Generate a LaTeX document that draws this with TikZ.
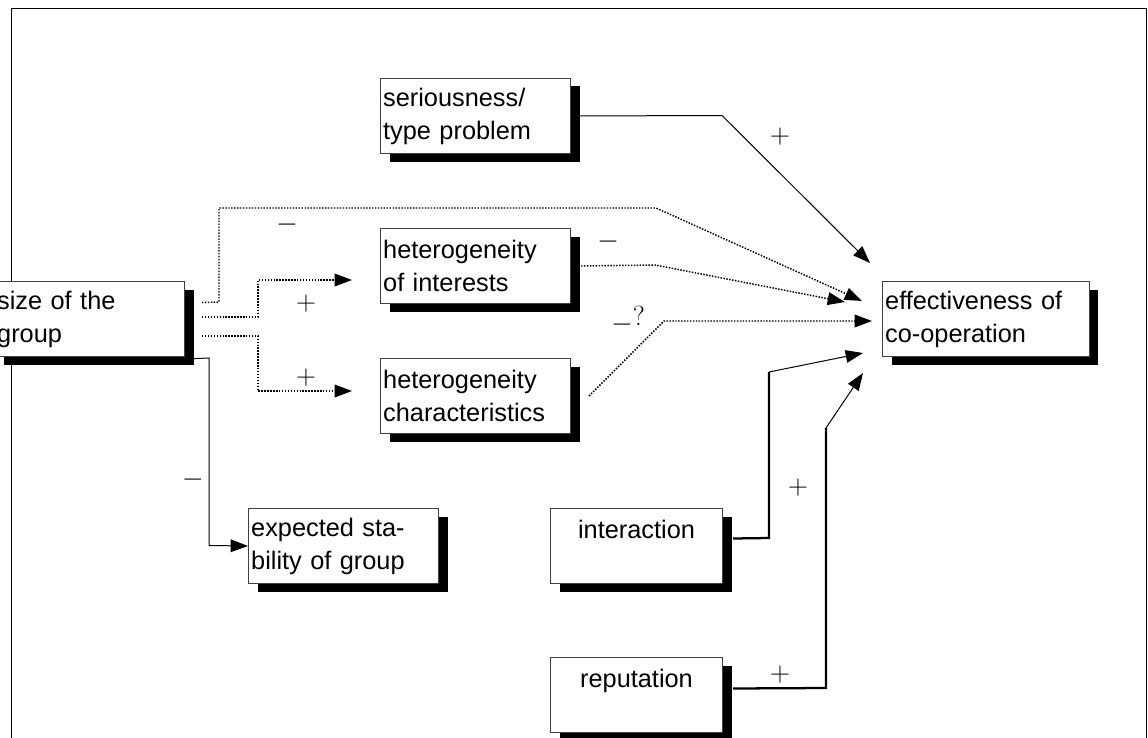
\documentclass[tikz,border=0pt]{standalone}
\usepackage{fontspec}
\setmainfont{Liberation Sans}
\usetikzlibrary{arrows.meta,shadows}

\tikzset{every picture/.style={line width=0.75pt}}
\tikzset{
  blk/.style={draw=black!75, fill=white, inner sep=2pt, text width=#1,
    minimum height=56.25pt, align=left, anchor=north west,
    font=\fontsize{19}{24.75}\selectfont,
    drop shadow={shadow xshift=6.75pt, shadow yshift=-6pt, opacity=1, fill=black}},
  blk/.default=138.5pt,
  dotline/.style={dash pattern=on 1.1pt off 1.1pt, line width=1.1pt},
  tip/.style={-{Triangle[length=13pt,width=9.5pt]}},
  sgn/.style={font=\fontsize{20}{20}\selectfont, inner sep=0pt}
}

\begin{document}
\begin{tikzpicture}[x=0.75pt,y=0.75pt,yscale=-1,xscale=1]
\useasboundingbox (0,0) rectangle (1148,738);

%Frame
\draw (11,745) -- (11,9) -- (1146,9) -- (1146,745);

% Boxes
\node (size)  [blk] at (-6,281)  {size of the\\group};
\node (ser)   [blk] at (380,78)  {seriousness/\\type problem};
\node (hint)  [blk] at (380,228) {heterogeneity\\of interests};
\node (hchar) [blk] at (380,358) {heterogeneity\\characteristics};
\node (stab)  [blk] at (248,508) {expected sta-\\bility of group};
\node (inter) [blk=125pt, align=center] at (550,508) {interaction\\~};
\node (rep)   [blk=125pt, align=center] at (550,657) {reputation\\~};
\node (eff)   [blk=151pt] at (882,281) {effectiveness of\\co-operation};

% Arrow ends
\coordinate (hiIn) at (352,280);
\coordinate (hcIn) at (352,391);
\coordinate (inS) at (870,263);
\coordinate (inA) at (862,301);
\coordinate (inB) at (845,302);
\coordinate (inC) at (872,321);
\coordinate (inD) at (863,353);
\coordinate (inE) at (863,373);
\coordinate (bendD) at (769,372);
\coordinate (bendE) at (826,428);

% Connectors
\draw [tip] (ser.east) -- (722,115.5) -- (inS);
\draw [dotline, tip] (size.east) ++(17,-16.5) -- (219,302) -- (219,208) -- (656,208) -- (inA);
\draw [dotline, tip] (size.east) ++(17,-2) -- (258,317) -- (258,280) -- (hiIn);
\draw [dotline, tip] (size.east) ++(17,17) -- (258,336) -- (258,391) -- (hcIn);
\draw [dotline, tip] (hint.east) ++(10,0) -- (655,265) -- (inB);
\draw [dotline, tip] (hchar.east) ++(18,0) -- (664,321) -- (inC);
\draw [tip] (size.south east) ++(0,2) -- (209,358) -- (209,545.5) -- (stab.west);
\draw [line width=1.7pt] (inter.east) ++(10,-7.5) -- (769,538) -- (bendD);
\draw [tip] (bendD) -- (inD);
\draw [line width=1.7pt] (rep.east) ++(10,-6.5) -- (826,688) -- (bendE);
\draw [tip] (bendE) -- (inE);

% Signs
\node (s1) [sgn] at (287,225) {$-$};
\node (s2) [sgn] at (306,304) {$+$};
\node (s3) [sgn] at (306,378) {$+$};
\node (s4) [sgn] at (193,480) {$-$};
\node (s5) [sgn] at (608,242) {$-$};
\node (s6) [sgn] at (628,320) {\raisebox{-5pt}{$-$}$\mathrm{?}$};
\node (s7) [sgn] at (780,137) {$+$};
\node (s8) [sgn] at (798,488) {$+$};
\node (s9) [sgn] at (780,675) {$+$};

\end{tikzpicture}
\end{document}
